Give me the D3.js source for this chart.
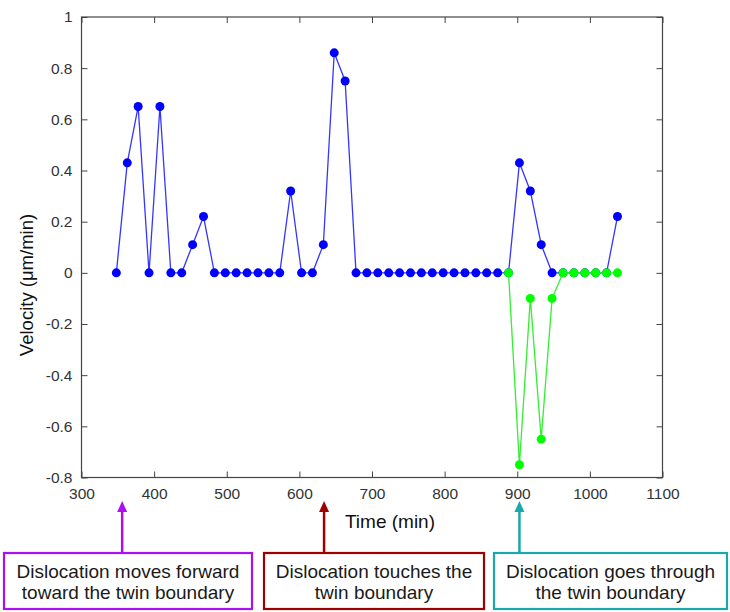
<!DOCTYPE html>
<html lang="en">
<head>
  <meta charset="UTF-8">
  <title>Dislocation velocity</title>
  <style>
    body { margin: 0; background: #fff; }
    text { font-family: 'Liberation Sans', Arial, Helvetica, sans-serif; }
  </style>
</head>
<body>
  <svg id="svg" width="730" height="612"></svg>
  <script src="https://d3js.org/d3.v7.min.js"></script>
  <script>
    // time (min) of each frame, blue series
    const blueTimes = [348, 363, 378, 393, 408, 423, 438, 453, 468, 483, 498, 513, 528, 543, 558, 573,
      588, 603, 618, 633, 648, 663, 678, 693, 708, 723, 738, 753, 768, 783, 798, 813, 828, 843, 858,
      873, 888, 903, 918, 933, 948, 963, 978, 993, 1008, 1023, 1038]
    const blueVel = [0, 0.43, 0.65, 0, 0.65, 0, 0, 0.11, 0.22, 0, 0, 0, 0, 0, 0, 0,
      0.32, 0, 0, 0.11, 0.86, 0.75, 0, 0, 0, 0, 0, 0, 0, 0, 0, 0, 0, 0, 0,
      0, 0, 0.43, 0.32, 0.11, 0, 0, 0, 0, 0, 0, 0.22]

    // green series (after the twin boundary)
    const greenTimes = [888, 903, 918, 933, 948, 963, 978, 993, 1008, 1023, 1038]
    const greenVel = [0, -0.75, -0.1, -0.65, -0.1, 0, 0, 0, 0, 0, 0]

    const xTicks = [300, 400, 500, 600, 700, 800, 900, 1000, 1100]
    const yTicks = [-0.8, -0.6, -0.4, -0.2, 0, 0.2, 0.4, 0.6, 0.8, 1]

    const noteTimes = [356, 634, 903]
    const noteLines = [
      ['Dislocation moves forward', 'toward the twin boundary'],
      ['Dislocation touches the', 'twin boundary'],
      ['Dislocation goes through', 'the twin boundary']
    ]
    const noteColors = ['#aa11ee', '#a00000', '#1aa9a9']

    const svg = d3.select('#svg')
    const plotL = 81.5, plotR = 662.5, plotT = 17, plotB = 477.5

    const xScale = d3.scaleLinear().domain([300, 1100]).range([plotL, plotR])
    const yScale = d3.scaleLinear().domain([-0.8, 1]).range([plotB, plotT])

    const axisColor = '#444'
    const tickColor = '#333'

    // box
    svg.append('rect')
      .attr('x', plotL).attr('y', plotT)
      .attr('width', plotR - plotL).attr('height', plotB - plotT)
      .attr('fill', 'none').attr('stroke', axisColor).attr('stroke-width', 1.2)

    // axes with inward ticks on all four sides
    const styleAxis = g => {
      g.select('.domain').remove()
      g.selectAll('.tick line').attr('stroke', axisColor)
      g.selectAll('.tick text')
        .attr('fill', tickColor)
        .style('font-size', '15.5px')
        .style('font-family', "'Liberation Sans', Arial, sans-serif")
    }
    const yFmt = d => String(+d.toFixed(1))  // plain hyphen minus, like the original
    svg.append('g')
      .attr('transform', `translate(0,${plotB})`)
      .call(d3.axisBottom(xScale).tickValues(xTicks).tickSize(-6).tickPadding(10).tickFormat(d3.format('d')))
      .call(styleAxis)
    svg.append('g')
      .attr('transform', `translate(0,${plotT})`)
      .call(d3.axisTop(xScale).tickValues(xTicks).tickSize(-6).tickFormat(''))
      .call(styleAxis)
    svg.append('g')
      .attr('transform', `translate(${plotL},0)`)
      .call(d3.axisLeft(yScale).tickValues(yTicks).tickSize(-6).tickPadding(9).tickFormat(yFmt))
      .call(styleAxis)
    svg.append('g')
      .attr('transform', `translate(${plotR},0)`)
      .call(d3.axisRight(yScale).tickValues(yTicks).tickSize(-6).tickFormat(''))
      .call(styleAxis)

    // axis labels
    svg.append('text')
      .text('Time (min)')
      .attr('x', 390).attr('y', 528)
      .attr('text-anchor', 'middle')
      .style('font-size', '19px')
      .attr('fill', '#111')
    svg.append('text')
      .text('Velocity (\u03bcm/min)')
      .attr('transform', `translate(33,285) rotate(-90)`)
      .attr('text-anchor', 'middle')
      .style('font-size', '18.5px')
      .attr('fill', '#111')

    // series
    const line = d3.line().x(d => xScale(d[0])).y(d => yScale(d[1]))
    const drawSeries = (times, vals, lineColor, dotColor) => {
      const pts = times.map((t, i) => [t, vals[i]])
      svg.append('path')
        .attr('d', line(pts))
        .attr('fill', 'none')
        .attr('stroke', lineColor)
        .attr('stroke-width', 1.3)
      svg.append('g')
        .selectAll('circle')
        .data(pts)
        .enter()
        .append('circle')
        .attr('cx', d => xScale(d[0]))
        .attr('cy', d => yScale(d[1]))
        .attr('r', 4.5)
        .attr('fill', dotColor)
    }
    drawSeries(blueTimes, blueVel, '#3535ff', '#0000ff')
    drawSeries(greenTimes, greenVel, '#33ee33', '#00ff00')

    // annotation boxes and arrows
    const boxes = [[4, 252], [264, 484], [494, 727]]
    const boxTop = 553, boxBottom = 609, arrowTip = 501

    noteTimes.forEach((t, i) => {
      const ax = xScale(t)
      const c = noteColors[i]
      svg.append('line')
        .attr('x1', ax).attr('x2', ax)
        .attr('y1', boxTop).attr('y2', arrowTip + 8)
        .attr('stroke', c).attr('stroke-width', 2.5)
      svg.append('path')
        .attr('d', d3.line()([[ax - 5, arrowTip + 11], [ax + 5, arrowTip + 11], [ax, arrowTip]]) + 'Z')
        .attr('fill', c)
      const [x0, x1] = boxes[i]
      svg.append('rect')
        .attr('x', x0).attr('y', boxTop)
        .attr('width', x1 - x0).attr('height', boxBottom - boxTop)
        .attr('fill', '#fff').attr('stroke', c).attr('stroke-width', 2.2)
      noteLines[i].forEach((s, j) => {
        svg.append('text')
          .text(s)
          .attr('x', (x0 + x1) / 2)
          .attr('y', 578 + j * 21)
          .attr('text-anchor', 'middle')
          .style('font-size', '19px')
          .attr('fill', '#1a1a1a')
      })
    })
  </script>
</body>
</html>
